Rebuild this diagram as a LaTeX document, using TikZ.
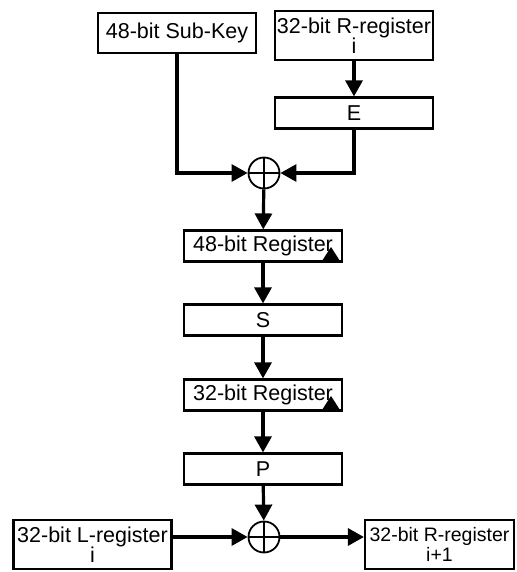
\documentclass[tikz,border=0pt]{standalone}
\usepackage{fontspec}
\setmainfont{Liberation Sans}
\usetikzlibrary{arrows.meta}

\tikzset{
  regbox/.style={draw, line width=2.2pt, inner sep=0pt, minimum width=158pt, minimum height=31pt, align=center, font=\fontsize{21.5}{20.5}\selectfont},
  xorsum/.style={circle, draw, line width=1.8pt, minimum size=31pt, inner sep=0pt,
    path picture={\draw[line width=2.6pt] (path picture bounding box.north) -- (path picture bounding box.south)
      (path picture bounding box.west) -- (path picture bounding box.east);}},
  flow/.style={line width=3.2pt, -{Triangle[length=16pt,width=17pt]}},
}

\begin{document}
\begin{tikzpicture}[x=1pt,y=-1pt]
  \useasboundingbox (0,0) rectangle (516,572);
  \node[regbox, minimum height=40pt] (subkey) at (177,33) {48-bit Sub-Key};
  \node[regbox, minimum height=49pt, anchor=north] (rreg) at (354,10) {32-bit R-register\\i};
  \node[regbox] (expand) at (354,113) {E};
  \node[xorsum] (xorkey) at (264,173) {};
  \node[regbox] (reg48) at (263,246) {48-bit Register};
  \node[regbox] (sbox) at (263,320) {S};
  \node[regbox] (reg32) at (263,395) {32-bit Register};
  \node[regbox] (perm) at (263,469) {P};
  \node[xorsum] (xorleft) at (264,537) {};
  \node[regbox, minimum height=49pt, anchor=north] (lreg) at (92.5,519) {32-bit L-register\\i};
  \node[regbox, minimum width=149pt, minimum height=49pt, anchor=north, font=\fontsize{19.5}{20.5}\selectfont] (rnext) at (439.5,519) {32-bit R-register\\i+1};
  \fill (331,247) -- (322,261) -- (340,261) -- cycle;
  \fill (331,396) -- (322,410) -- (340,410) -- cycle;
  \draw[flow] (rreg) -- (expand);
  \draw[flow] (subkey) |- (xorkey);
  \draw[flow] (expand) |- (xorkey);
  \draw[flow] (xorkey) -- (reg48);
  \draw[flow] (reg48) -- (sbox);
  \draw[flow] (sbox) -- (reg32);
  \draw[flow] (reg32) -- (perm);
  \draw[flow] (perm) -- (xorleft);
  \draw[flow] (lreg.east |- xorleft) -- (xorleft);
  \draw[flow] (xorleft) -- (rnext.west |- xorleft);
\end{tikzpicture}
\end{document}
